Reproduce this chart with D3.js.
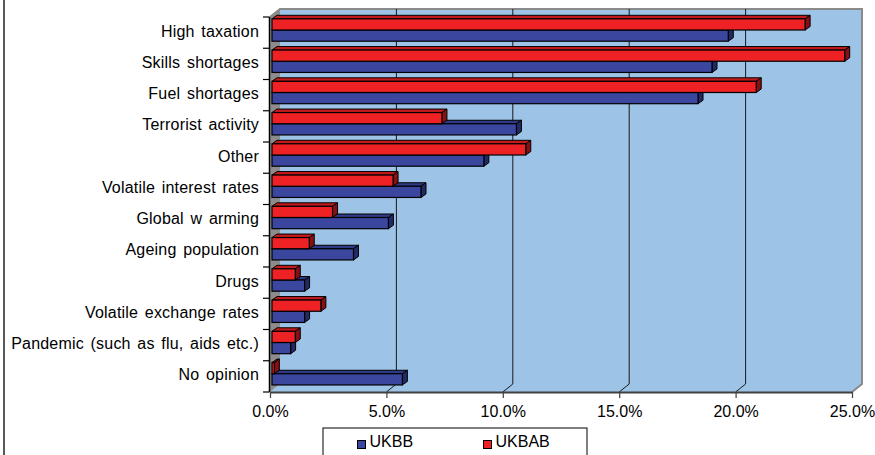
<!DOCTYPE html>
<html>
<head>
<meta charset="utf-8">
<script src="https://cdn.jsdelivr.net/npm/d3@7"></script>
<style>
  html, body { margin: 0; padding: 0; background: #fff; }
  svg { display: block; font-family: "Liberation Sans", Arial, sans-serif; }
</style>
</head>
<body>
<svg id="chart" width="875" height="455"></svg>
<script>
// chart data (percent)
const categories = [
  "High taxation", "Skills shortages", "Fuel shortages", "Terrorist activity",
  "Other", "Volatile interest rates", "Global w arming", "Ageing population",
  "Drugs", "Volatile exchange rates", "Pandemic (such as flu, aids etc.)", "No opinion"
];
const ukbb  = [19.6, 18.9, 18.3, 10.5, 9.1, 6.4, 5.0, 3.5, 1.4, 1.4, 0.8, 5.6];
const ukbab = [22.9, 24.6, 20.8, 7.3, 10.9, 5.2, 2.6, 1.6, 1.0, 2.1, 1.0, 0.1];
const xTicks = [0, 5, 10, 15, 20, 25];
const seriesNames = ["UKBB", "UKBAB"];

const svg = d3.select("#chart");

const wallDx = 10, wallDy = -8;   // back wall offset (3d depth)
const barDx = 5, barDy = -3.5;    // bar depth
const plotTop = 17, plotBottom = 392;

const x = d3.scaleLinear().domain([0, 25]).range([270, 852]);
const y = d3.scaleBand().domain(categories).range([plotTop, plotBottom]).padding(0);
const sub = d3.scaleBand().domain(["UKBAB", "UKBB"]).range([1.8, 24.2]);

// outer frame left edge
svg.append("line")
  .attr("x1", 4).attr("x2", 4).attr("y1", 0).attr("y2", 455)
  .attr("stroke", "#222").attr("stroke-width", 1.5);

const pts = a => a.map(p => p.join(",")).join(" ");

// back wall
svg.append("rect")
  .attr("x", x(0) + wallDx).attr("y", plotTop + wallDy)
  .attr("width", x(25) - x(0)).attr("height", plotBottom - plotTop)
  .attr("fill", "#9dc3e6");

// floor
svg.append("polygon")
  .attr("points", pts([[x(0), plotBottom], [x(25), plotBottom], [x(25) + wallDx, plotBottom + wallDy], [x(0) + wallDx, plotBottom + wallDy]]))
  .attr("fill", "#9dc3e6");

// left side wall
svg.append("polygon")
  .attr("points", pts([[x(0), plotTop], [x(0) + wallDx, plotTop + wallDy], [x(0) + wallDx, plotBottom + wallDy], [x(0), plotBottom]]))
  .attr("fill", "#8c8c8c");

// wall borders
svg.append("polyline")
  .attr("points", pts([[x(0), plotTop], [x(0) + wallDx, plotTop + wallDy], [x(25) + wallDx, plotTop + wallDy], [x(25) + wallDx, plotBottom + wallDy], [x(25), plotBottom]]))
  .attr("fill", "none").attr("stroke", "#8a8a8a").attr("stroke-width", 2);

// gridlines on back wall + floor
xTicks.slice(1, -1).forEach(t => {
  svg.append("polyline")
    .attr("points", pts([[x(t) + wallDx, plotTop + wallDy], [x(t) + wallDx, plotBottom + wallDy], [x(t), plotBottom]]))
    .attr("fill", "none").attr("stroke", "#1a1a1a").attr("stroke-width", 1);
});

// bars: blue first so red front face hides its top
const series = [
  { name: "UKBB", values: ukbb, front: "#3b479e", topc: "#2f3a86", side: "#222a66" },
  { name: "UKBAB", values: ukbab, front: "#ee2224", topc: "#c41a1c", side: "#861012" }
];

series.forEach(s => {
  const g = svg.append("g");
  categories.forEach((c, i) => {
    const x0 = x(0) + 2;
    const x1 = x(s.values[i]) + 2;
    const y0 = y(c) + sub(s.name);
    const y1 = y0 + sub.bandwidth();
    g.append("polygon")
      .attr("points", pts([[x0, y0], [x1, y0], [x1 + barDx, y0 + barDy], [x0 + barDx, y0 + barDy]]))
      .attr("fill", s.topc).attr("stroke", "#000").attr("stroke-width", 1);
    g.append("polygon")
      .attr("points", pts([[x1, y0], [x1 + barDx, y0 + barDy], [x1 + barDx, y1 + barDy], [x1, y1]]))
      .attr("fill", s.side).attr("stroke", "#000").attr("stroke-width", 1);
    g.append("rect")
      .attr("x", x0).attr("y", y0)
      .attr("width", x1 - x0).attr("height", y1 - y0)
      .attr("fill", s.front).attr("stroke", "#000").attr("stroke-width", 1.2);
  });
});

// x axis
const xAxis = svg.append("g")
  .attr("transform", `translate(0,${plotBottom})`)
  .call(d3.axisBottom(x).tickValues(xTicks).tickFormat(d => d.toFixed(1) + "%").tickSizeInner(6).tickSizeOuter(0).tickPadding(8));
xAxis.select(".domain").attr("stroke", "#404040").attr("stroke-width", 2);
xAxis.selectAll(".tick line").attr("stroke", "#404040").attr("stroke-width", 1.2);
xAxis.selectAll("text")
  .attr("font-size", 16).attr("fill", "#000")
  .attr("font-family", "Liberation Sans, Arial, sans-serif");

// y axis line and ticks on category boundaries
svg.append("line")
  .attr("x1", 269.5).attr("x2", 269.5).attr("y1", plotTop).attr("y2", plotBottom)
  .attr("stroke", "#000").attr("stroke-width", 1.5);
d3.range(categories.length + 1).forEach(i => {
  const yy = plotTop + i * y.step();
  svg.append("line")
    .attr("x1", 263).attr("x2", 269.5).attr("y1", yy).attr("y2", yy)
    .attr("stroke", "#000").attr("stroke-width", 1.2);
});

// category labels (excel spaced them a bit wider)
svg.append("g").selectAll("text")
  .data(categories)
  .enter().append("text")
  .attr("x", 259)
  .attr("y", d => y(d) + y.bandwidth() / 2 + 4)
  .attr("text-anchor", "end")
  .attr("font-size", 16)
  .attr("letter-spacing", 0.2)
  .attr("word-spacing", 2)
  .attr("fill", "#000")
  .text(d => d);

// legend
const legend = svg.append("g");
legend.append("rect")
  .attr("x", 323).attr("y", 428).attr("width", 264).attr("height", 40)
  .attr("fill", "#fff").attr("stroke", "#000").attr("stroke-width", 1);
const legendColors = ["#3b479e", "#ee2224"];
const legendX = [357.5, 483.5];
seriesNames.forEach((n, i) => {
  legend.append("rect")
    .attr("x", legendX[i]).attr("y", 440.5).attr("width", 8).attr("height", 8)
    .attr("fill", legendColors[i]).attr("stroke", "#000").attr("stroke-width", 1);
  legend.append("text")
    .attr("x", legendX[i] + 12).attr("y", 447)
    .attr("font-size", 16).attr("fill", "#000")
    .text(n);
});
</script>
</body>
</html>
